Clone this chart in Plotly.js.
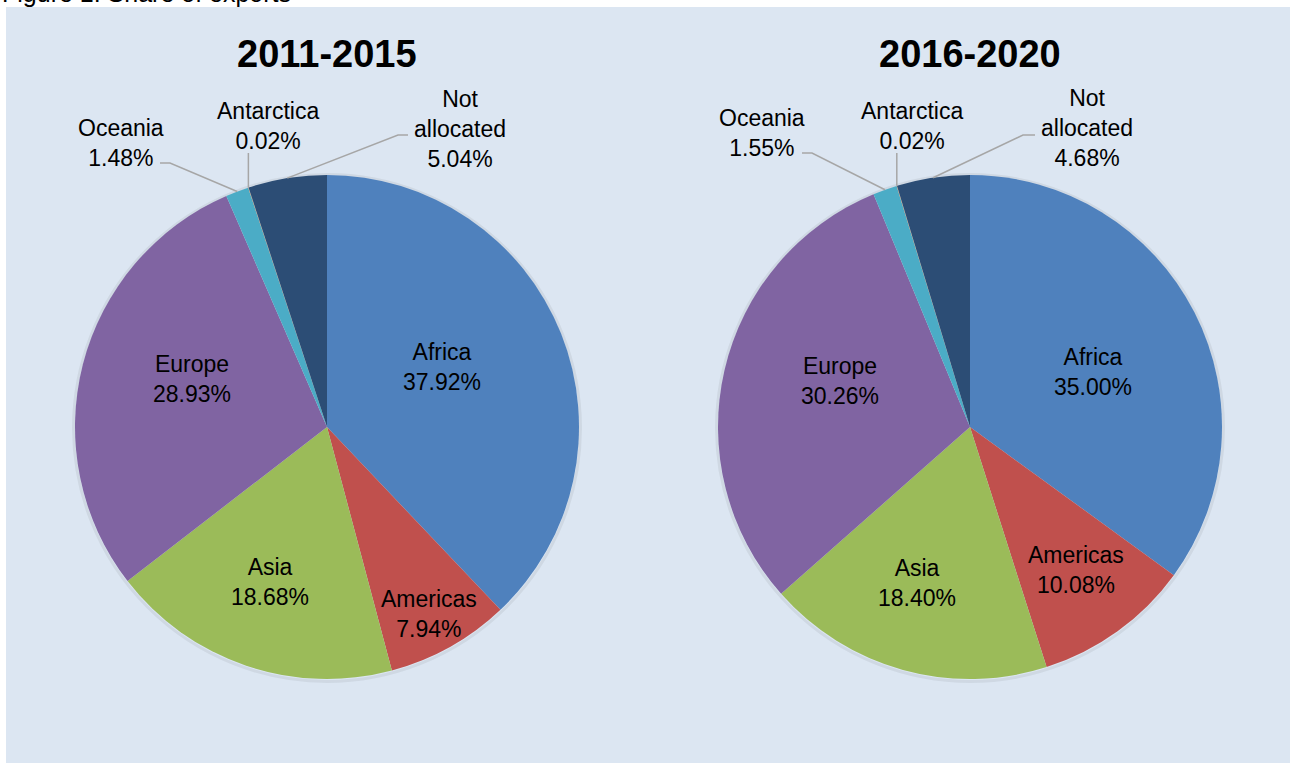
<!DOCTYPE html>
<html>
<head>
<meta charset="utf-8">
<script src="https://cdn.plot.ly/plotly-3.0.1.min.js"></script>
<style>
html,body{margin:0;padding:0;background:#fff;}
#chart{width:1290px;height:765px;}
</style>
</head>
<body>
<div id="chart"></div>
<script>
// ---- data ----
const categories = ['Africa', 'Americas', 'Asia', 'Europe', 'Oceania', 'Antarctica', 'Not allocated'];
const categoryLabels = ['Africa', 'Americas', 'Asia', 'Europe', 'Oceania', 'Antarctica', 'Not<br>allocated'];
const share2011_2015 = [37.92, 7.94, 18.68, 28.93, 1.48, 0.02, 5.04];
const share2016_2020 = [35.00, 10.08, 18.40, 30.26, 1.55, 0.02, 4.68];
const periods = ['2011-2015', '2016-2020'];
const captionText = 'Figure 1: Share of exports';

// ---- styles / layout (pixels) ----
const W = 1290, H = 765;
const colors = ['#4f81bd', '#c0504d', '#9bbb59', '#8064a2', '#4bacc6', '#f79646', '#2c4d75'];
const pieCenters = [[327, 427], [970, 427]];
const pieRadius = 252;
const labelPos = [
  [[442, 367], [429, 614], [270, 582], [192, 379], [121, 143], [268, 126], [460, 129]],
  [[1093, 372], [1076, 570], [917, 583], [840, 381], [762, 133], [912, 126], [1087, 128]]
];
// leader line starts (label side) for outside labels: index -> [start, knee]
const leaderStarts = [
  {4: [[160, 163], [170, 163]], 5: [[null, 153]], 6: [[408, 135], [398, 135]]},
  {4: [[802, 153], [812, 153]], 5: [[null, 153]], 6: [[1035, 135], [1023, 135]]}
];
const titleY = 54;
const FONT = 'Arial, "Liberation Sans", Helvetica, sans-serif';

const px = x => x / W;
const py = y => 1 - y / H;

const seriesList = [share2011_2015, share2016_2020];
const traces = [];
const annotations = [];
const shapes = [];

shapes.push({type: 'rect', xref: 'paper', yref: 'paper', layer: 'below',
  x0: px(6), x1: 1, y0: py(763), y1: py(7), fillcolor: '#dce6f2', line: {width: 0}});

seriesList.forEach((vals, i) => {
  const [cx, cy] = pieCenters[i];
  // soft shadow ring
  shapes.push({type: 'circle', xref: 'paper', yref: 'paper', layer: 'below',
    x0: px(cx - pieRadius - 1.5), x1: px(cx + pieRadius + 1.5),
    y0: py(cy + pieRadius + 2.5), y1: py(cy - pieRadius - 0.5),
    fillcolor: 'rgba(0,0,0,0)', line: {color: 'rgba(0,0,0,0.06)', width: 3}});
  traces.push({
    type: 'pie', labels: categories, values: vals, sort: false,
    direction: 'clockwise', rotation: 0, textinfo: 'none', hoverinfo: 'label+percent',
    marker: {colors: colors, line: {width: 0}},
    domain: {x: [px(cx - pieRadius), px(cx + pieRadius)], y: [py(cy + pieRadius), py(cy - pieRadius)]},
    showlegend: false
  });
  annotations.push({xref: 'paper', yref: 'paper', x: px(cx), y: py(titleY),
    xanchor: 'center', yanchor: 'middle', showarrow: false,
    text: '<b>' + periods[i] + '</b>', font: {family: FONT, size: 38, color: '#000'}});
  const total = vals.reduce((a, b) => a + b, 0);
  let cum = 0;
  vals.forEach((v, k) => {
    const mid = (cum + v / 2) / total;
    cum += v;
    const [lx, ly] = labelPos[i][k];
    annotations.push({xref: 'paper', yref: 'paper', x: px(lx), y: py(ly),
      xanchor: 'center', yanchor: 'middle', showarrow: false, align: 'center',
      text: categoryLabels[k] + '<br>' + v.toFixed(2) + '%',
      font: {family: FONT, size: 23, color: '#000'}});
    const ls = leaderStarts[i][k];
    if (ls) {
      const th = 2 * Math.PI * mid;
      const ex = cx + pieRadius * Math.sin(th);
      const ey = cy - pieRadius * Math.cos(th);
      const pts = ls.map(p => [p[0] === null ? ex : p[0], p[1]]);
      pts.push([ex, ey]);
      const path = pts.map((p, j) => (j ? 'L' : 'M') + px(p[0]) + ',' + py(p[1])).join(' ');
      shapes.push({type: 'path', xref: 'paper', yref: 'paper', path: path,
        line: {color: '#a6a6a6', width: 1.5}});
    }
  });
});

annotations.push({xref: 'paper', yref: 'paper', x: 0, y: py(9),
  xanchor: 'left', yanchor: 'bottom', showarrow: false,
  text: captionText, font: {family: FONT, size: 25, color: '#000'}});

const layout = {
  width: W, height: H, margin: {l: 0, r: 0, t: 0, b: 0},
  paper_bgcolor: '#ffffff', plot_bgcolor: '#ffffff',
  shapes: shapes, annotations: annotations, showlegend: false
};
Plotly.newPlot('chart', traces, layout, {displayModeBar: false, staticPlot: true});
</script>
</body>
</html>
